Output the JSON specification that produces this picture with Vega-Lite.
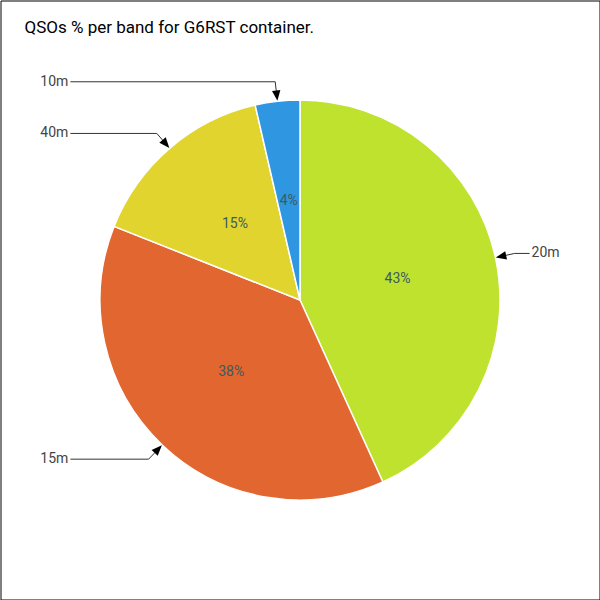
{
  "$schema": "https://vega.github.io/schema/vega-lite/v6.json",
  "width": 599,
  "height": 599,
  "padding": 0.5,
  "autosize": "none",
  "background": "white",
  "view": {"stroke": "black", "strokeWidth": 1},
  "title": {
    "text": "QSOs % per band for G6RST container.",
    "anchor": "start",
    "frame": "group",
    "orient": "top",
    "offset": 0,
    "dx": 24,
    "dy": 49,
    "baseline": "alphabetic",
    "font": "Roboto, sans-serif",
    "fontSize": 17,
    "fontWeight": "normal",
    "color": "#000000"
  },
  "data": {
    "values": [
      {"band": "20m", "pct": 43.2},
      {"band": "15m", "pct": 37.8},
      {"band": "40m", "pct": 15.4},
      {"band": "10m", "pct": 3.6}
    ]
  },
  "transform": [
    {"window": [{"op": "row_number", "as": "rank"}, {"op": "sum", "field": "pct", "as": "cum"}], "frame": [null, 0]},
    {"joinaggregate": [{"op": "sum", "field": "pct", "as": "total"}]},
    {"calculate": "(datum.cum - datum.pct / 2) / datum.total * 2 * PI", "as": "mid"},
    {"calculate": "sin(datum.mid) >= 0 ? 1 : -1", "as": "side"},
    {"calculate": "206 * sin(datum.mid)", "as": "arrx"},
    {"calculate": "206 * cos(datum.mid)", "as": "arry"},
    {"calculate": "220 * sin(datum.mid)", "as": "elbx"},
    {"calculate": "220 * cos(datum.mid)", "as": "elby"},
    {"calculate": "datum.side * 230", "as": "endx"},
    {"calculate": "100 * sin(datum.mid)", "as": "inx"},
    {"calculate": "100 * cos(datum.mid)", "as": "iny"},
    {"calculate": "datum.mid * 180 / PI + 180", "as": "arrowAngle"},
    {"calculate": "format(datum.pct / datum.total * 100, '.0f') + '%'", "as": "pctLabel"}
  ],
  "layer": [
    {
      "mark": {"type": "arc", "outerRadius": 200, "stroke": "#ffffff", "strokeWidth": 1.5},
      "encoding": {
        "theta": {"field": "pct", "type": "quantitative", "stack": true},
        "order": {"field": "rank", "type": "quantitative"},
        "color": {
          "field": "band",
          "type": "nominal",
          "scale": {"domain": ["20m", "15m", "40m", "10m"], "range": ["#bee22e", "#e2662f", "#e2d42e", "#2f96e2"]},
          "legend": null
        }
      }
    },
    {
      "mark": {"type": "rule", "color": "#333333", "strokeWidth": 1},
      "encoding": {
        "x": {"field": "endx", "type": "quantitative", "scale": {"domain": [-300, 300], "nice": false, "zero": false}, "axis": null},
        "x2": {"field": "elbx"},
        "y": {"field": "elby", "type": "quantitative", "scale": {"domain": [-300, 300], "nice": false, "zero": false}, "axis": null}
      }
    },
    {
      "mark": {"type": "rule", "color": "#333333", "strokeWidth": 1},
      "encoding": {
        "x": {"field": "elbx", "type": "quantitative"},
        "x2": {"field": "arrx"},
        "y": {"field": "elby", "type": "quantitative"},
        "y2": {"field": "arry"}
      }
    },
    {
      "mark": {"type": "point", "filled": true, "color": "#000000", "opacity": 1, "size": 110, "shape": "M0,-1L0.8,1L-0.8,1Z"},
      "encoding": {
        "x": {"field": "arrx", "type": "quantitative"},
        "y": {"field": "arry", "type": "quantitative"},
        "angle": {"field": "arrowAngle", "type": "quantitative", "scale": {"domain": [0, 360], "range": [0, 360]}}
      }
    },
    {
      "transform": [{"filter": "datum.side > 0"}],
      "mark": {"type": "text", "fontSize": 14, "color": "#444444", "baseline": "middle", "align": "left", "dx": 2, "font": "Roboto, sans-serif"},
      "encoding": {
        "x": {"field": "endx", "type": "quantitative"},
        "y": {"field": "elby", "type": "quantitative"},
        "text": {"field": "band"}
      }
    },
    {
      "transform": [{"filter": "datum.side < 0"}],
      "mark": {"type": "text", "fontSize": 14, "color": "#444444", "baseline": "middle", "align": "right", "dx": -2, "font": "Roboto, sans-serif"},
      "encoding": {
        "x": {"field": "endx", "type": "quantitative"},
        "y": {"field": "elby", "type": "quantitative"},
        "text": {"field": "band"}
      }
    },
    {
      "mark": {"type": "text", "fontSize": 14, "color": "#3b5a64", "baseline": "middle", "align": "center", "font": "Roboto, sans-serif"},
      "encoding": {
        "x": {"field": "inx", "type": "quantitative"},
        "y": {"field": "iny", "type": "quantitative"},
        "text": {"field": "pctLabel"}
      }
    }
  ]
}
